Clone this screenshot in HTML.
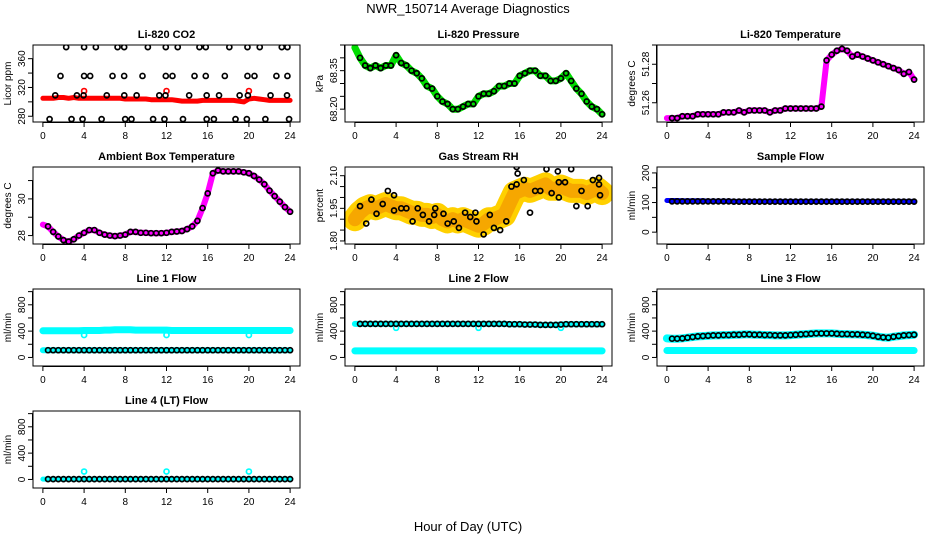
<!DOCTYPE html>
<html><head><meta charset="utf-8"><style>
html,body{margin:0;padding:0;background:#fff}
svg{display:block;font-family:"Liberation Sans",sans-serif}
</style></head><body>
<svg id="chart" width="936" height="540" viewBox="0 0 936 540" xmlns="http://www.w3.org/2000/svg">
<text x="468" y="13" font-size="13" text-anchor="middle">NWR_150714  Average Diagnostics</text>
<text x="468" y="531" font-size="13" text-anchor="middle">Hour of Day (UTC)</text>
</svg>
<script>
const hours = [0,0.5,1,1.5,2,2.5,3,3.5,4,4.5,5,5.5,6,6.5,7,7.5,8,8.5,9,9.5,10,10.5,11,11.5,12,12.5,13,13.5,14,14.5,15,15.5,16,16.5,17,17.5,18,18.5,19,19.5,20,20.5,21,21.5,22,22.5,23,23.5,24];
const xTicks = [0,4,8,12,16,20,24];

const co2Red = [305,305,305,306,306,305,306,305,305,305,305,305,305,305,305,305,304,304,304,304,304,303,303,303,303,303,302,301,301,301,301,302,302,302,302,302,302,302,301,300,304,305,304,303,302,302,302,302,302];
const co2RedCircH = [4,12,20];
const co2RedCircV = [315,315,315];
const co2BlkH = [2.26,4.0,5.14,7.25,7.89,10.19,11.93,13.09,15.2,15.81,18.1,19.86,21.05,23.19,23.74,
 1.71,4.0,4.59,6.76,7.89,9.67,11.93,12.58,14.72,15.81,17.66,19.86,20.54,22.67,23.74,
 1.2,3.3,3.95,6.2,7.9,9.1,11.3,11.9,14.2,15.9,17.1,19.1,19.9,22.1,23.7,
 0.65,2.78,3.85,5.7,7.99,8.6,10.7,11.8,13.6,15.9,16.6,18.7,19.8,21.6,23.9];
const co2BlkV = [376,376,376,376,376,376,376,376,376,376,376,376,376,376,376,
 336,336,336,336,336,336,336,336,336,336,336,336,336,336,336,
 309,309,309,309,309,309,309,309,309,309,309,309,309,309,309,
 276,276,276,276,276,276,276,276,276,276,276,276,276,276,276];

const pressure = [68.44,68.40,68.37,68.36,68.37,68.36,68.37,68.37,68.41,68.38,68.37,68.35,68.34,68.32,68.29,68.28,68.25,68.23,68.22,68.20,68.20,68.21,68.22,68.22,68.25,68.26,68.26,68.27,68.29,68.29,68.30,68.30,68.33,68.34,68.35,68.35,68.33,68.33,68.31,68.31,68.32,68.34,68.31,68.28,68.26,68.23,68.21,68.20,68.18];
const liTemp = [51.252,51.252,51.252,51.253,51.253,51.253,51.254,51.254,51.254,51.254,51.254,51.255,51.255,51.255,51.256,51.255,51.256,51.256,51.256,51.256,51.255,51.256,51.256,51.257,51.257,51.257,51.257,51.257,51.257,51.257,51.258,51.282,51.285,51.287,51.288,51.287,51.284,51.285,51.284,51.283,51.282,51.281,51.280,51.279,51.278,51.277,51.275,51.276,51.272];
const ambient = [28.6,28.5,28.2,27.95,27.75,27.67,27.8,28.0,28.15,28.3,28.3,28.15,28.05,28.0,27.97,28.0,28.05,28.2,28.2,28.15,28.15,28.13,28.13,28.13,28.15,28.2,28.22,28.25,28.35,28.5,28.8,29.5,30.3,31.4,31.55,31.5,31.5,31.5,31.5,31.45,31.4,31.25,31.05,30.8,30.45,30.15,29.85,29.55,29.3];
const rhBand = [1.90,1.93,1.95,1.96,1.95,1.96,1.97,1.96,1.95,1.95,1.94,1.93,1.93,1.92,1.92,1.91,1.92,1.90,1.89,1.90,1.89,1.90,1.89,1.88,1.87,1.88,1.90,1.90,1.91,1.92,1.97,2.02,2.03,2.04,2.03,2.04,2.05,2.06,2.04,2.04,2.05,2.04,2.03,2.03,2.03,2.02,2.03,2.04,2.02];
const rhBlkH = [0.5,1.1,1.6,2.1,2.7,3.2,3.8,3.8,4.5,5.0,5.6,6.1,6.6,7.2,7.7,7.8,8.6,9.0,9.6,10.1,10.7,11.2,11.7,11.8,12.5,13.1,13.5,14.1,14.7,15.2,15.7,15.7,15.8,16.4,17.0,17.5,18.0,18.6,19.1,19.7,19.8,19.8,20.4,21.0,21.5,22.0,22.6,23.1,23.7,23.7,23.8];
const rhBlkV = [1.96,1.88,1.99,1.925,1.97,2.03,1.94,2.01,1.95,1.95,1.89,1.95,1.92,1.89,1.92,1.95,1.925,1.88,1.89,1.86,1.93,1.91,1.93,1.89,1.83,1.92,1.86,1.85,1.89,2.05,2.06,2.14,2.11,2.08,1.93,2.03,2.03,2.13,2.02,2.12,2.0,2.07,2.07,2.13,1.96,2.03,1.96,2.08,2.09,2.06,2.01];
const sampleBlue = [107,107,107,106,106,106,106,106,105,105,105,105,105,104,104,104,104,104,104,104,104,104,104,104,104,104,104,104,104,104,104,104,104,104,104,104,104,104,104,104,104,104,104,104,104,104,104,104,104];
const sampleBlk = [104,104,104,104,104,104,104,104,104,104,104,104,104,103,103,103,103,103,103,103,103,103,103,103,103,103,103,103,103,103,103,103,103,103,103,103,103,103,103,103,103,103,103,103,103,103,103,103,103];
const line1Hi = [405,405,405,405,405,405,405,405,410,410,410,410,415,415,420,420,420,420,415,415,415,415,415,415,415,410,410,410,410,410,410,410,410,410,410,410,410,410,410,410,410,410,410,410,410,410,410,410,410];
const line1Lo = [110,110,110,110,110,110,110,110,110,110,110,110,110,110,110,110,110,110,110,110,110,110,110,110,110,110,110,110,110,110,110,110,110,110,110,110,110,110,110,110,110,110,110,110,110,110,110,110,110];
const line2Hi = [510,510,510,510,510,510,510,510,510,510,510,510,510,510,510,510,510,510,510,510,510,510,510,510,510,510,510,510,510,510,505,505,505,500,500,500,495,495,495,495,500,505,505,505,505,505,505,505,505];
const line2Lo = [100,100,100,100,100,100,100,100,100,100,100,100,100,100,100,100,100,100,100,100,100,100,100,100,100,100,100,100,100,100,100,100,100,100,100,100,100,100,100,100,100,100,100,100,100,100,100,100,100];
const line3Hi = [290,285,285,290,300,310,320,325,330,335,335,340,340,345,345,350,350,345,345,340,340,335,335,335,340,345,350,355,360,365,365,365,365,360,355,355,350,350,345,340,330,315,305,300,315,325,335,340,345];
const line3Lo = [105,105,105,105,105,105,105,105,105,105,105,105,105,105,105,105,105,105,105,105,105,105,105,105,105,105,105,105,105,105,105,105,105,105,105,105,105,105,105,105,105,105,105,105,105,105,105,105,105];
const line4 = [5,5,5,5,5,5,5,5,5,5,5,5,5,5,5,5,5,5,5,5,5,5,5,5,5,5,5,5,5,5,5,5,5,5,5,5,5,5,5,5,5,5,5,5,5,5,5,5,5];
const spikeH = [4,12,20];
const line1Spike = [340,340,340];
const line2Spike = [450,450,450];
const line4Spike = [120,120,120];

const NS = "http://www.w3.org/2000/svg";
const svg = document.getElementById('chart');
const colLeft = [33,345,657], rowTop = [45,167,289,411], W = 267, Hh = 77;

function mk(tag, attrs, parent){
  const e = document.createElementNS(NS, tag);
  for (const k in attrs) e.setAttribute(k, attrs[k]);
  (parent||svg).appendChild(e);
  return e;
}

function panel(key, col, row, title, ylab, ylim, yticks, ylabels){
  const L = colLeft[col], T = rowTop[row];
  const g = mk('g', {});
  
  
  const sx = h => L + (h + 0.96) / 25.92 * W;
  const sy = v => T + Hh - (v - ylim[0]) / (ylim[1] - ylim[0]) * Hh;
  const clipId = 'clip-' + key;
  const cp = mk('clipPath', {id: clipId}, g);
  mk('rect', {x: L, y: T, width: W, height: Hh}, cp);
  const plot = mk('g', {'clip-path': 'url(#' + clipId + ')'}, g);
  
  
  const box = mk('rect', {x: L, y: T, width: W, height: Hh, fill: 'none', stroke: '#000', 'stroke-width': 1}, g);
  
  
  const t = mk('text', {x: L + W/2, y: T - 7, 'font-size': 11, 'font-weight': 'bold', 'text-anchor': 'middle'}, g);
  t.textContent = title;
  
  
  const ax = mk('g', {stroke: '#000', 'stroke-width': 1}, g);
  
  
  mk('line', {x1: sx(0), x2: sx(24), y1: T + Hh + 0.5, y2: T + Hh + 0.5}, ax);
  xTicks.forEach(h => {
    mk('line', {x1: sx(h), x2: sx(h), y1: T + Hh, y2: T + Hh + 5}, ax);
    const tl = mk('text', {x: sx(h), y: T + Hh + 17, 'font-size': 10, 'text-anchor': 'middle', stroke: 'none'}, g);
    tl.textContent = h;
    
    
  });
  const ay = mk('g', {stroke: '#000', 'stroke-width': 1}, g);
  
  
  mk('line', {x1: L - 0.5, x2: L - 0.5, y1: sy(yticks[0]), y2: sy(yticks[yticks.length-1])}, ay);
  yticks.forEach(v => mk('line', {x1: L - 5, x2: L, y1: sy(v), y2: sy(v)}, ay));
  ylabels.forEach(lb => {
    const yy = sy(parseFloat(lb));
    const tl = mk('text', {x: L - 8, y: yy, 'font-size': 10, 'text-anchor': 'middle', transform: 'rotate(-90 ' + (L - 8) + ' ' + yy + ')'}, g);
    tl.textContent = lb;
    
    
  });
  const yl = mk('text', {x: L - 22, y: T + Hh/2, 'font-size': 10, 'text-anchor': 'middle', transform: 'rotate(-90 ' + (L - 22) + ' ' + (T + Hh/2) + ')'}, g);
  yl.textContent = ylab;
  
  
  return {plot, sx, sy};
}

function band(p, xs, vs, color, width, name, opacity){
  const d = xs.map((h, i) => p.sx(h).toFixed(1) + ',' + p.sy(vs[i]).toFixed(1)).join(' ');
  const pl = mk('polyline', {points: d, fill: 'none', stroke: color, 'stroke-width': width, 'stroke-linejoin': 'round', 'stroke-linecap': 'round', 'stroke-opacity': opacity || 1}, p.plot);
  
  
}
function circles(p, xs, vs, color, name, start){
  const g = mk('g', {fill: 'none', stroke: color, 'stroke-width': 1.7}, p.plot);
  
  
  for (let i = start || 0; i < xs.length; i++) {
    const c = mk('circle', {cx: p.sx(xs[i]), cy: p.sy(vs[i]), r: 2.5}, g);
    
    
  }
}

const flowTicks = [0,200,400,600,800,1000], flowLabels = ['0','400','800'];

let p = panel('co2', 0, 0, 'Li-820 CO2', 'Licor ppm', [272,379], [280,300,320,340,360], ['280','320','360']);
band(p, hours, co2Red, '#ff0000', 5, 'co2-red-series');
circles(p, co2RedCircH, co2RedCircV, '#ff0000', 'co2-red-outliers');
circles(p, co2BlkH, co2BlkV, '#000', 'co2-black-series');

p = panel('pressure', 1, 0, 'Li-820 Pressure', 'kPa', [68.15,68.45], [68.20,68.25,68.30,68.35,68.40,68.45], ['68.20','68.35']);
band(p, hours, pressure, '#00dd00', 7, 'pressure-green-series');
circles(p, hours, pressure, '#000', 'pressure-black-series', 1);

p = panel('li-temp', 2, 0, 'Li-820 Temperature', 'degrees C', [51.25,51.29], [51.26,51.27,51.28,51.29], ['51.26','51.28']);
band(p, hours, liTemp, '#ff00ff', 6, 'li-temp-magenta-series');
circles(p, hours, liTemp, '#000', 'li-temp-black-series', 1);

p = panel('ambient', 0, 1, 'Ambient Box Temperature', 'degrees C', [27.54,31.74], [28,29,30,31], ['28','30']);
band(p, hours, ambient, '#ff00ff', 6, 'ambient-magenta-series');
circles(p, hours, ambient, '#000', 'ambient-black-series', 1);

p = panel('rh', 1, 1, 'Gas Stream RH', 'percent', [1.786,2.14], [1.80,1.85,1.90,1.95,2.00,2.05,2.10], ['1.80','1.95','2.10']);
band(p, hours, rhBand, '#ffd000', 24, 'rh-yellow-band');
band(p, hours, rhBand, '#f5a000', 14, 'rh-orange-band', 0.85);
circles(p, rhBlkH, rhBlkV, '#000', 'rh-black-series');

p = panel('sample', 2, 1, 'Sample Flow', 'ml/min', [-40,220], [0,50,100,150,200], ['0','100','200']);
band(p, hours, sampleBlue, '#0000ff', 5, 'sample-blue-series');
circles(p, hours, sampleBlk, '#000', 'sample-black-series', 1);

p = panel('line1', 0, 2, 'Line 1 Flow', 'ml/min', [-130,1040], flowTicks, flowLabels);
band(p, hours, line1Hi, '#00ffff', 7, 'line1-cyan-high');
band(p, hours, line1Lo, '#00ffff', 6, 'line1-cyan-low');
circles(p, spikeH, line1Spike, '#00ffff', 'line1-cyan-spikes');
circles(p, hours, line1Lo, '#000', 'line1-black-series', 1);

p = panel('line2', 1, 2, 'Line 2 Flow', 'ml/min', [-130,1040], flowTicks, flowLabels);
band(p, hours, line2Hi, '#00ffff', 6, 'line2-cyan-high');
band(p, hours, line2Lo, '#00ffff', 7, 'line2-cyan-low');
circles(p, spikeH, line2Spike, '#00ffff', 'line2-cyan-spikes');
circles(p, hours, line2Hi, '#000', 'line2-black-series', 1);

p = panel('line3', 2, 2, 'Line 3 Flow', 'ml/min', [-130,1040], flowTicks, flowLabels);
band(p, hours, line3Hi, '#00ffff', 8, 'line3-cyan-high');
band(p, hours, line3Lo, '#00ffff', 7, 'line3-cyan-low');
circles(p, hours, line3Hi, '#000', 'line3-black-series', 1);

p = panel('line4', 0, 3, 'Line 4 (LT) Flow', 'ml/min', [-130,1040], flowTicks, flowLabels);
band(p, hours, line4, '#00ffff', 5, 'line4-cyan-series');
circles(p, spikeH, line4Spike, '#00ffff', 'line4-cyan-spikes');
circles(p, hours, line4, '#000', 'line4-black-series', 1);
</script>
</body></html>
